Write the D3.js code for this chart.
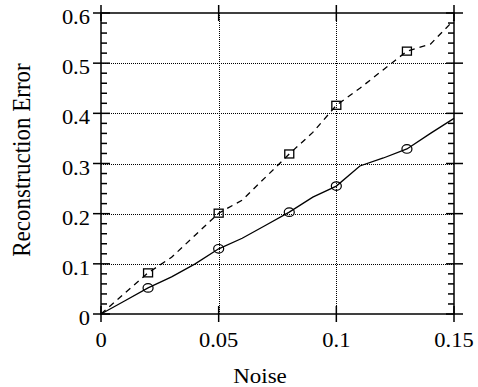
<!DOCTYPE html>
<html>
<head>
<meta charset="utf-8">
<script src="https://cdn.jsdelivr.net/npm/d3@7"></script>
<style>
  html, body { margin: 0; padding: 0; background: #fff; }
  svg { display: block; }
  text { font-family: "Liberation Serif", "Times New Roman", serif; fill: #000; }
</style>
</head>
<body>
<svg id="chart" width="478" height="387"></svg>
<script>
// ---- data ----
const noise = [0, 0.01, 0.02, 0.03, 0.04, 0.05, 0.06, 0.07, 0.08, 0.09, 0.10, 0.11, 0.12, 0.13, 0.14, 0.15];
const solidSeries = [0, 0.026, 0.052, 0.074, 0.100, 0.130, 0.151, 0.177, 0.203, 0.233, 0.255, 0.295, 0.311, 0.329, 0.360, 0.390];
const dashedSeries = [0, 0.041, 0.082, 0.113, 0.157, 0.201, 0.227, 0.273, 0.319, 0.362, 0.416, 0.450, 0.487, 0.524, 0.538, 0.586];
const markerNoise = [0.02, 0.05, 0.08, 0.10, 0.13];
const xTicks = [0, 0.05, 0.10, 0.15];
const xTickLabels = ["0", "0.05", "0.1", "0.15"];
const yTicks = [0, 0.1, 0.2, 0.3, 0.4, 0.5, 0.6];
const yTickLabels = ["0", "0.1", "0.2", "0.3", "0.4", "0.5", "0.6"];
const yMinorTicks = d3.range(0, 31).map(i => i * 0.02).filter(v => Math.abs(v * 10 - Math.round(v * 10)) > 1e-6);
const xTitle = "Noise";
const yTitle = "Reconstruction Error";

// ---- scales ----
const x = d3.scaleLinear().domain([0, 0.15]).range([101, 454]);
const y = d3.scaleLinear().domain([0, 0.6]).range([314, 13]);
const svg = d3.select("#chart");
const X0 = x(0), X1 = x(0.15), Y0 = y(0), Y1 = y(0.6);

// grid
const grid = svg.append("g").attr("stroke", "#000").attr("stroke-width", 1).attr("stroke-dasharray", "1,1");
grid.selectAll("line.gx").data(xTicks.slice(1, -1)).join("line")
  .attr("x1", d => Math.round(x(d)) + 0.5).attr("x2", d => Math.round(x(d)) + 0.5)
  .attr("y1", Y1).attr("y2", Y0);
grid.selectAll("line.gy").data(yTicks.slice(1, -1)).join("line")
  .attr("y1", d => Math.round(y(d)) + 0.5).attr("y2", d => Math.round(y(d)) + 0.5)
  .attr("x1", X0).attr("x2", X1);

// frame
svg.append("rect").attr("x", X0).attr("y", Y1).attr("width", X1 - X0).attr("height", Y0 - Y1)
  .attr("fill", "none").attr("stroke", "#000").attr("stroke-width", 1.5);

// ticks
const tk = svg.append("g").attr("stroke", "#000").attr("stroke-width", 1.5);
// y major ticks (crossing) left and right
tk.selectAll("line.ymL").data(yTicks).join("line")
  .attr("x1", X0 - 8).attr("x2", X0 + 9).attr("y1", d => y(d)).attr("y2", d => y(d));
tk.selectAll("line.ymR").data(yTicks).join("line")
  .attr("x1", X1 - 8).attr("x2", X1 + 9).attr("y1", d => y(d)).attr("y2", d => y(d));
// y minor ticks (inside)
tk.selectAll("line.ynL").data(yMinorTicks).join("line")
  .attr("x1", X0).attr("x2", X0 + 6).attr("y1", d => y(d)).attr("y2", d => y(d));
tk.selectAll("line.ynR").data(yMinorTicks).join("line")
  .attr("x1", X1 - 6).attr("x2", X1).attr("y1", d => y(d)).attr("y2", d => y(d));
// x major ticks (crossing) bottom and top
tk.selectAll("line.xmB").data(xTicks).join("line")
  .attr("x1", d => x(d)).attr("x2", d => x(d)).attr("y1", Y0 - 8).attr("y2", Y0 + 8);
tk.selectAll("line.xmT").data(xTicks).join("line")
  .attr("x1", d => x(d)).attr("x2", d => x(d)).attr("y1", Y1 - 8).attr("y2", Y1 + 8);

// tick labels
svg.append("g").selectAll("text").data(xTicks).join("text")
  .attr("transform", d => `translate(${x(d)},347) scale(1,0.9)`)
  .attr("text-anchor", "middle").attr("font-size", 22.5)
  .text((d, i) => xTickLabels[i]);
svg.append("g").selectAll("text").data(yTicks).join("text")
  .attr("transform", d => `translate(90,${y(d) + 11}) scale(1,0.9)`)
  .attr("text-anchor", "end").attr("font-size", 22.5)
  .text((d, i) => yTickLabels[i]);

// axis titles
svg.append("text").attr("transform", "translate(260,383) scale(1,0.9)")
  .attr("text-anchor", "middle").attr("font-size", 23).text(xTitle);
svg.append("text").attr("transform", "translate(30,160) rotate(-90) scale(0.92,1)")
  .attr("text-anchor", "middle").attr("font-size", 25).text(yTitle);

// lines
const line = d3.line().x((d, i) => x(noise[i])).y(d => y(d));
svg.append("path").datum(dashedSeries).attr("d", line)
  .attr("fill", "none").attr("stroke", "#000").attr("stroke-width", 1.3).attr("stroke-dasharray", "6,5");
svg.append("path").datum(solidSeries).attr("d", line)
  .attr("fill", "none").attr("stroke", "#000").attr("stroke-width", 1.3);

// markers
const valAt = (series, n) => series[noise.findIndex(v => Math.abs(v - n) < 1e-9)];
svg.append("g").selectAll("ellipse").data(markerNoise).join("ellipse")
  .attr("cx", d => x(d)).attr("cy", d => y(valAt(solidSeries, d)))
  .attr("rx", 5).attr("ry", 4.3)
  .attr("fill", "none").attr("stroke", "#000").attr("stroke-width", 1.2);
svg.append("g").selectAll("rect").data(markerNoise).join("rect")
  .attr("x", d => x(d) - 4.5).attr("y", d => y(valAt(dashedSeries, d)) - 4)
  .attr("width", 9).attr("height", 8)
  .attr("fill", "none").attr("stroke", "#000").attr("stroke-width", 1.3);
</script>
</body>
</html>
